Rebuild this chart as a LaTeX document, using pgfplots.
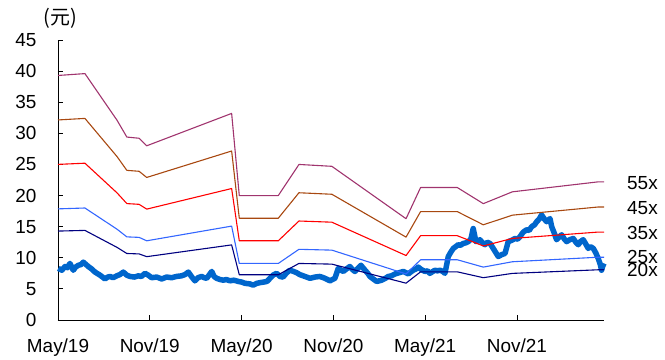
\documentclass[border=0pt]{standalone}
\usepackage{pgfplots}
\pgfplotsset{compat=1.18}
\usepackage{fontspec}
\setmainfont{Liberation Sans}
\newfontfamily\cjk{Noto Sans CJK SC}
\definecolor{c55}{RGB}{160,52,110}
\definecolor{c45}{RGB}{168,72,16}
\definecolor{c35}{RGB}{255,0,0}
\definecolor{c25}{RGB}{51,102,255}
\definecolor{c20}{RGB}{0,0,128}
\definecolor{cpx}{RGB}{0,102,204}
\begin{document}
\begin{tikzpicture}
\begin{axis}[
  scale only axis, width=546bp, height=280bp,
  xmin=0, xmax=35.69, ymin=0, ymax=45,
  axis x line*=bottom, axis y line*=left,
  axis line style={black, line width=0.9bp, -},
  xtick={0,6,12,18,24,30},
  xticklabels={May/19,Nov/19,May/20,Nov/20,May/21,Nov/21},
  ytick={0,5,...,45},
  tick align=inside, major tick length=5bp,
  tick style={black, line width=0.9bp},
  /pgf/number format/assume math mode=true,
  ticklabel style={font=\fontsize{19}{22}\selectfont},
  yticklabel style={xshift=-18bp},
  xticklabel style={yshift=-15bp},
  clip=false,
  every axis plot/.append style={line join=round},
]
% price
\addplot[cpx, line width=5.5bp] coordinates {
(0.02,8.3)(0.25,8.0)(0.46,8.6)(0.62,8.4)(0.78,9.1)(1.00,8.0)(1.15,8.5)(1.33,8.8)(1.50,8.9)(1.65,9.3)(1.98,8.6)(2.20,8.2)(2.42,7.7)
(2.75,7.2)(3.07,6.6)(3.25,6.9)(3.40,7.0)(3.60,6.8)(3.84,7.1)(4.05,7.3)(4.27,7.7)(4.50,7.2)(4.71,7.0)(5.00,6.9)(5.25,7.1)(5.45,7.0)(5.69,7.5)
(5.90,7.2)(6.12,6.8)(6.45,6.9)(6.78,6.6)(7.10,6.9)(7.43,6.8)(7.75,7.0)(8.08,7.1)(8.30,7.3)(8.52,7.7)(8.75,6.9)(8.95,6.3)(9.15,6.8)(9.39,7.0)(9.55,6.8)(9.72,6.7)
(9.90,7.3)(10.05,7.8)(10.20,7.0)(10.37,6.7)(10.60,6.5)(10.80,6.4)(11.00,6.5)(11.24,6.3)(11.50,6.4)(11.78,6.2)(12.00,6.1)(12.22,5.9)(12.55,5.8)(12.75,5.6)
(13.00,5.9)(13.20,6.0)(13.45,6.1)(13.66,6.2)(13.86,6.7)(14.05,7.2)(14.29,7.5)(14.51,7.0)(14.71,6.9)(14.95,7.6)(15.16,8.0)(15.40,7.8)(15.60,7.6)
(15.80,7.3)(16.03,7.1)(16.25,6.9)(16.47,6.7)(16.80,6.9)(17.12,7.0)(17.45,6.7)(17.78,6.3)(18.10,6.7)(18.32,8.3)(18.50,8.0)(18.65,7.8)(18.85,8.2)(19.08,8.6)
(19.25,8.1)(19.41,7.8)(19.60,8.3)(19.80,8.8)(20.07,8.0)(20.25,7.5)(20.39,7.0)(20.60,6.6)(20.83,6.2)(21.00,6.3)(21.16,6.4)(21.40,6.7)(21.59,7.0)(21.80,7.1)(22.03,7.4)
(22.30,7.6)(22.57,7.8)(22.75,7.6)(22.90,7.4)(23.05,7.7)(23.22,8.0)(23.40,8.2)(23.55,8.5)(23.75,8.1)(23.99,7.8)(24.15,7.9)(24.31,7.5)(24.50,7.8)(24.64,8.0)(24.80,7.9)(24.97,8.0)
(25.15,7.8)(25.29,7.5)(25.40,8.8)(25.51,10.2)(25.70,11.0)(25.84,11.5)(26.00,11.8)(26.16,12.1)(26.30,12.0)(26.49,12.3)(26.65,12.4)(26.82,12.6)(26.99,13.0)(27.14,14.7)
(27.32,12.6)(27.45,12.7)(27.58,12.9)(27.75,12.4)(27.91,12.1)(28.05,12.5)(28.24,12.3)(28.45,11.5)(28.60,10.9)(28.78,10.2)(29.00,10.5)(29.22,10.7)(29.43,12.6)
(29.65,12.8)(29.87,13.1)(30.05,13.0)(30.20,13.4)(30.40,14.1)(30.63,14.5)(30.80,14.4)(30.96,15.0)(31.15,15.3)(31.29,15.8)(31.45,16.2)(31.61,16.9)(31.80,16.2)(31.94,15.8)(32.16,16.3)
(32.27,15.0)(32.45,13.9)(32.59,12.9)(32.75,13.3)(32.92,13.7)(33.10,13.0)(33.25,12.6)(33.45,12.9)(33.68,13.1)(33.85,12.5)(34.01,12.1)(34.15,12.6)(34.33,12.9)(34.50,12.2)(34.66,11.5)
(34.80,11.8)(34.99,11.5)(35.15,10.8)(35.31,9.9)(35.45,8.9)(35.53,8.0)(35.60,8.6)(35.69,9.1)
};
% 20x
\addplot[c20, line width=1.1bp] coordinates {
(0,14.29)(1.76,14.40)(3.86,11.67)(4.5,10.69)(5.3,10.62)(5.8,10.18)(11.35,12.07)(11.85,7.27)
(14.4,7.27)(15.75,9.09)(17.9,8.98)(22.75,5.92)(23.7,7.74)(26.1,7.74)(27.8,6.80)(29.7,7.49)
(35.3,8.07)(35.69,8.07)};
% 25x
\addplot[c25, line width=1.1bp] coordinates {
(0,17.86)(1.76,18.00)(3.86,14.59)(4.5,13.36)(5.3,13.28)(5.8,12.73)(11.35,15.09)(11.85,9.09)
(14.4,9.09)(15.75,11.36)(17.9,11.23)(22.75,7.40)(23.7,9.68)(26.1,9.68)(27.8,8.50)(29.7,9.36)
(35.3,10.09)(35.69,10.09)};
% 35x
\addplot[c35, line width=1.1bp] coordinates {
(0,25.01)(1.76,25.20)(3.86,20.43)(4.5,18.71)(5.3,18.59)(5.8,17.82)(11.35,21.13)(11.85,12.73)
(14.4,12.73)(15.75,15.91)(17.9,15.72)(22.75,10.36)(23.7,13.55)(26.1,13.55)(27.8,11.90)(29.7,13.11)
(35.3,14.13)(35.69,14.13)};
% 45x
\addplot[c45, line width=1.1bp] coordinates {
(0,32.15)(1.76,32.40)(3.86,26.26)(4.5,24.05)(5.3,23.90)(5.8,22.91)(11.35,27.16)(11.85,16.36)
(14.4,16.36)(15.75,20.45)(17.9,20.21)(22.75,13.32)(23.7,17.42)(26.1,17.42)(27.8,15.30)(29.7,16.85)
(35.3,18.16)(35.69,18.16)};
% 55x
\addplot[c55, line width=1.1bp] coordinates {
(0,39.30)(1.76,39.60)(3.86,32.10)(4.5,29.40)(5.3,29.21)(5.8,28.00)(11.35,33.20)(11.85,20.00)
(14.4,20.00)(15.75,25.00)(17.9,24.70)(22.75,16.28)(23.7,21.29)(26.1,21.29)(27.8,18.70)(29.7,20.60)
(35.3,22.20)(35.69,22.20)};
\begin{scope}[every node/.style={anchor=west, inner sep=0pt, font=\fontsize{19}{22}\selectfont}]
\node at (axis cs:35.69,22.0) [xshift=23bp] {55x};
\node at (axis cs:35.69,18.0) [xshift=23bp] {45x};
\node at (axis cs:35.69,14.05) [xshift=23bp] {35x};
\node at (axis cs:35.69,10.1) [xshift=23bp] {25x};
\node at (axis cs:35.69,8.0) [xshift=23bp] {20x};
\end{scope}
\node[font=\fontsize{20}{22}\selectfont\cjk, inner sep=0pt] at (rel axis cs:0.004,1.079) {(元)};
\end{axis}
\path[use as bounding box] (-58bp,-40bp) rectangle (607bp,320bp);
\end{tikzpicture}
\end{document}
